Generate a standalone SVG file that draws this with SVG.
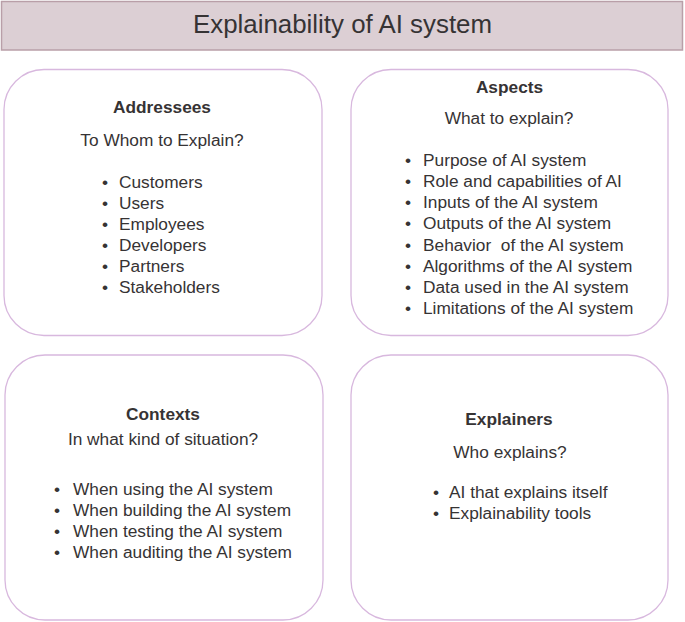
<svg xmlns="http://www.w3.org/2000/svg" width="685" height="622" viewBox="0 0 685 622">
<style>
text{font-family:"Liberation Sans",Arial,Helvetica,sans-serif;fill:#363334;font-size:17.3px}
.t{font-size:25.5px;text-anchor:middle}
.h{font-weight:bold;text-anchor:middle}
.q{text-anchor:middle}
.b{text-anchor:middle}
.box{fill:#ffffff;stroke:#d8b8de;stroke-width:1.3}
</style>
<rect width="685" height="622" fill="#ffffff"/>
<g id="title">
<rect x="1.5" y="1.5" width="681" height="48.5" fill="#dccfd4" stroke="#b99fa8" stroke-width="1.5"/>
<text class="t" x="342.5" y="33" textLength="299" lengthAdjust="spacingAndGlyphs">Explainability of AI system</text>
</g>
<g id="connectors"></g>
<g id="addressees">
<rect class="box" x="4" y="69.5" width="318" height="266" rx="40"/>
<text class="h" x="162" y="113">Addressees</text>
<text class="q" x="162" y="146">To Whom to Explain?</text>
<g>
<text class="b" x="105" y="188">•</text><text x="119" y="188">Customers</text>
<text class="b" x="105" y="209">•</text><text x="119" y="209">Users</text>
<text class="b" x="105" y="230">•</text><text x="119" y="230">Employees</text>
<text class="b" x="105" y="251">•</text><text x="119" y="251">Developers</text>
<text class="b" x="105" y="272">•</text><text x="119" y="272">Partners</text>
<text class="b" x="105" y="293">•</text><text x="119" y="293">Stakeholders</text>
</g>
</g>
<g id="aspects">
<rect class="box" x="351" y="69.5" width="317" height="266" rx="40"/>
<text class="h" x="509.5" y="93">Aspects</text>
<text class="q" x="509" y="124">What to explain?</text>
<g>
<text class="b" x="408" y="166">•</text><text x="423" y="166">Purpose of AI system</text>
<text class="b" x="408" y="187">•</text><text x="423" y="187">Role and capabilities of AI</text>
<text class="b" x="408" y="208">•</text><text x="423" y="208">Inputs of the AI system</text>
<text class="b" x="408" y="229">•</text><text x="423" y="229">Outputs of the AI system</text>
<text class="b" x="408" y="251">•</text><text x="423" y="251" xml:space="preserve">Behavior  of the AI system</text>
<text class="b" x="408" y="272">•</text><text x="423" y="272">Algorithms of the AI system</text>
<text class="b" x="408" y="293">•</text><text x="423" y="293">Data used in the AI system</text>
<text class="b" x="408" y="314">•</text><text x="423" y="314">Limitations of the AI system</text>
</g>
</g>
<g id="contexts">
<rect class="box" x="5" y="355" width="318" height="265" rx="40"/>
<text class="h" x="163" y="420">Contexts</text>
<text class="q" x="163" y="445">In what kind of situation?</text>
<g>
<text class="b" x="57" y="495">•</text><text x="73" y="495">When using the AI system</text>
<text class="b" x="57" y="516">•</text><text x="73" y="516">When building the AI system</text>
<text class="b" x="57" y="537">•</text><text x="73" y="537">When testing the AI system</text>
<text class="b" x="57" y="558">•</text><text x="73" y="558">When auditing the AI system</text>
</g>
</g>
<g id="explainers">
<rect class="box" x="351" y="355" width="317" height="265" rx="40"/>
<text class="h" x="509" y="425">Explainers</text>
<text class="q" x="510" y="458">Who explains?</text>
<g>
<text class="b" x="436" y="498">•</text><text x="449" y="498">AI that explains itself</text>
<text class="b" x="436" y="519">•</text><text x="449" y="519">Explainability tools</text>
</g>
</g>
</svg>
